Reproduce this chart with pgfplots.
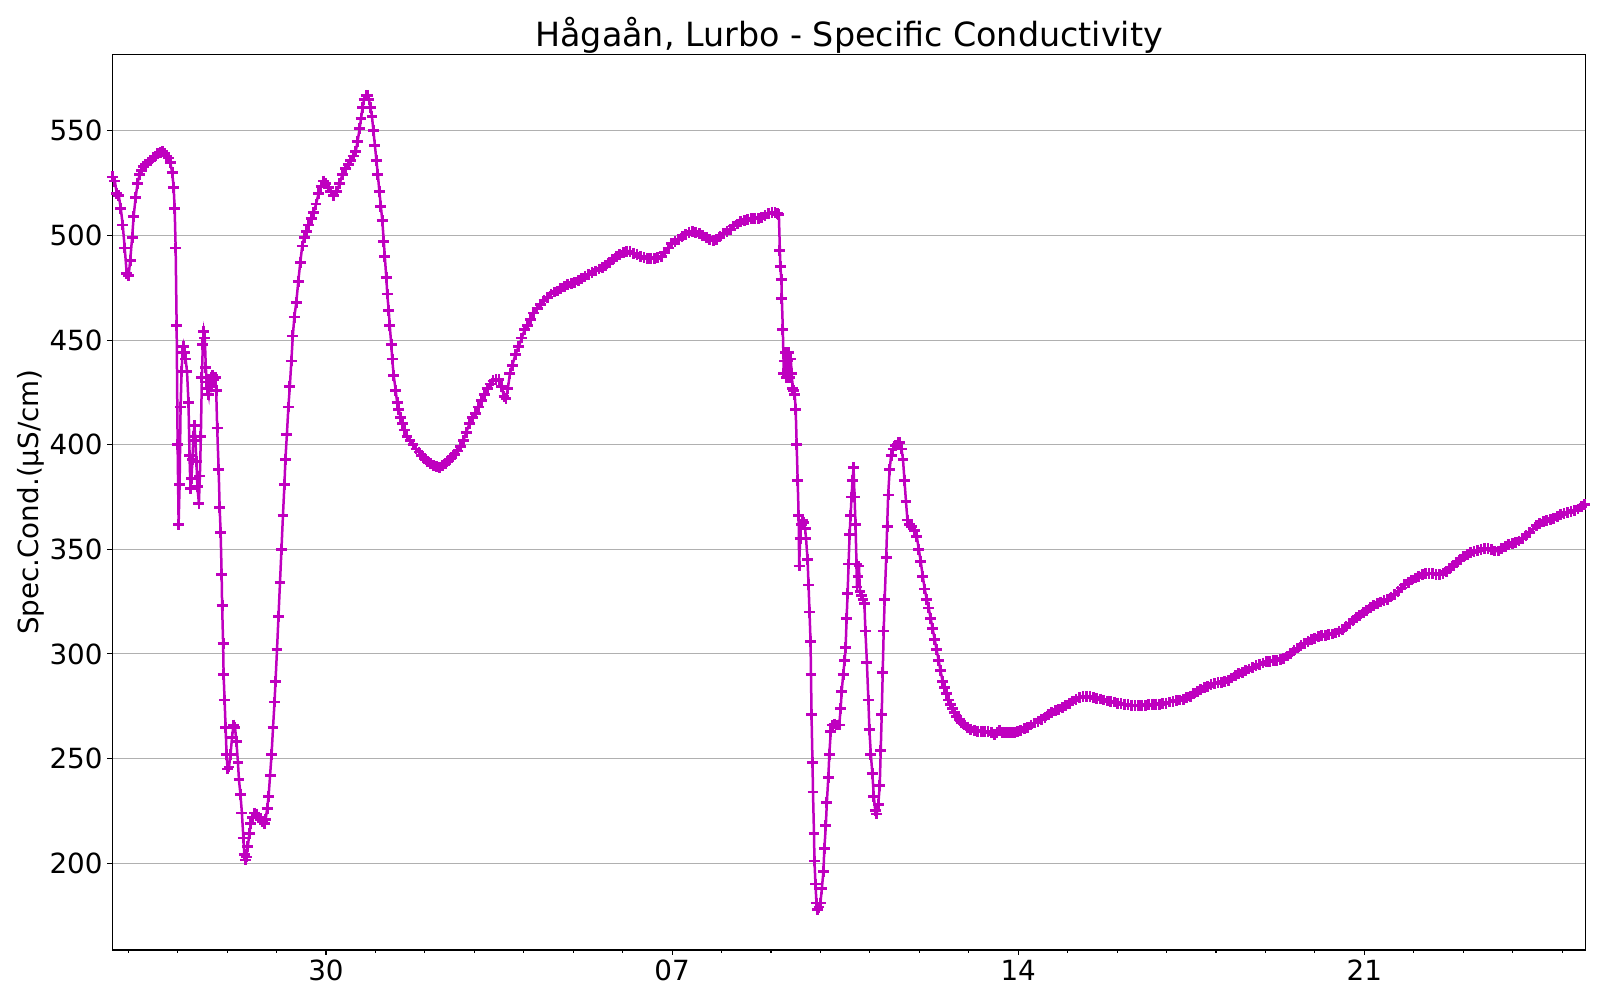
\documentclass[border=0pt]{standalone}
\usepackage{fontspec}
\setmainfont{DejaVu Sans}
\usepackage{pgfplots}
\pgfplotsset{compat=1.18}
\definecolor{magentam}{rgb}{0.75,0,0.75}
\definecolor{gridgray}{HTML}{B0B0B0}
\begin{document}
\begin{tikzpicture}
\useasboundingbox (0,0) rectangle (1152pt,720pt);
\begin{axis}[
  name=ax,
  at={(80.9pt,36.0pt)}, anchor=south west,
  width=1060.9pt, height=644.9pt, scale only axis,
  xmin=-4.32, xmax=25.48, ymin=158.5, ymax=586.6,
  xtick={0,7,14,21}, xticklabels={30,07,14,21},
  minor xtick={-4,-3,-2,-1,1,2,3,4,5,6,8,9,10,11,12,13,15,16,17,18,19,20,22,23,24,25},
  ytick={200,250,300,350,400,450,500,550},
  xtick pos=bottom, ytick pos=left,
  tick align=outside,
  major tick length=3.5pt, minor tick length=2pt,
  every tick/.style={black, line width=0.8pt},
  axis line style={line width=0.8pt},
  ymajorgrids, grid style={gridgray, line width=0.8pt},
  /pgf/number format/assume math mode=true,
  ticklabel style={font=\fontsize{20}{24}\selectfont},
  ylabel={Spec.Cond.(µS/cm)},
  ylabel style={font=\fontsize{20}{24}\selectfont, yshift=-3pt},
  clip=true,
]
\addplot[color=magentam, line width=1.8pt, mark=+, mark size=3.9pt, mark options={line width=2pt}] coordinates {
(-4.31,528)(-4.27,526)(-4.23,520)(-4.19,519)(-4.15,513)(-4.11,505)(-4.07,494)(-4.03,482)(-3.99,481)(-3.96,488)
(-3.92,499)(-3.89,509)(-3.85,518)(-3.81,525)(-3.77,529)(-3.73,531)(-3.69,533)(-3.65,534)(-3.60,535)(-3.55,536)
(-3.50,537)(-3.45,538)(-3.40,539)(-3.35,539.5)(-3.31,540)(-3.27,539)(-3.23,538)(-3.19,537)(-3.15,535)(-3.11,530)
(-3.08,523)(-3.06,513)(-3.04,494)(-3.02,457)(-3.00,400)(-2.98,362)(-2.96,381)(-2.94,418)(-2.92,435)(-2.90,444)
(-2.88,447)(-2.86,444)(-2.84,441)(-2.81,435)(-2.78,420)(-2.76,395)(-2.74,379)(-2.72,384)(-2.70,393)(-2.68,404)
(-2.66,409)(-2.64,402)(-2.62,392)(-2.60,380)(-2.57,372)(-2.55,385)(-2.53,404)(-2.51,432)(-2.49,448)(-2.47,454)
(-2.45,451)(-2.43,437)(-2.41,430)(-2.39,427)(-2.37,424)(-2.35,430)(-2.33,428)(-2.31,432)(-2.29,433)(-2.27,431)
(-2.24,432)(-2.22,426)(-2.20,408)(-2.17,388)(-2.15,370)(-2.13,358)(-2.11,338)(-2.10,323)(-2.08,305)(-2.07,290)
(-2.05,278)(-2.03,265)(-2.01,252)(-1.99,245)(-1.96,246)(-1.93,252)(-1.90,260)(-1.87,266)(-1.84,265)(-1.81,258)
(-1.78,248)(-1.76,240)(-1.73,233)(-1.70,224)(-1.67,212)(-1.65,204)(-1.63,201.5)(-1.61,203)(-1.58,208)(-1.55,214)
(-1.52,219)(-1.49,222)(-1.45,224)(-1.41,223.5)(-1.37,222)(-1.33,221)(-1.29,220)(-1.25,219)(-1.22,221)(-1.19,226)
(-1.16,232)(-1.13,242)(-1.10,252)(-1.07,265)(-1.04,277)(-1.02,287)(-0.99,302)(-0.96,318)(-0.93,334)(-0.90,350)
(-0.87,366)(-0.84,381)(-0.82,393)(-0.79,405)(-0.76,418)(-0.73,428)(-0.70,440)(-0.67,452)(-0.64,461)(-0.60,468)
(-0.56,478)(-0.52,487)(-0.48,495)(-0.44,499)(-0.40,502)(-0.35,505)(-0.30,508)(-0.25,511)(-0.20,515)(-0.15,520)
(-0.10,523.5)(-0.05,526)(0.00,525)(0.05,523)(0.10,521)(0.16,519)(0.22,521)(0.28,525)(0.33,529)(0.40,532)
(0.45,534)(0.50,536)(0.55,538)(0.60,540)(0.64,545)(0.68,551)(0.71,556)(0.74,561)(0.77,565)(0.81,567)
(0.84,567)(0.87,565)(0.90,561)(0.93,557)(0.96,550)(0.99,543)(1.02,536)(1.05,529)(1.08,521)(1.11,514)
(1.14,507)(1.17,497)(1.19,490)(1.22,480)(1.24,472)(1.27,464)(1.29,457)(1.32,448)(1.34,441)(1.37,433)
(1.41,426)(1.44,420)(1.47,417)(1.51,413)(1.55,410)(1.59,407)(1.64,404)(1.70,402)(1.76,400)(1.82,398)
(1.88,396.5)(1.94,395)(2.00,393.5)(2.06,392)(2.12,391)(2.18,390)(2.24,389.5)(2.30,389)(2.36,390)(2.42,391)
(2.48,392.5)(2.54,394)(2.60,395.5)(2.66,397)(2.72,399)(2.78,402)(2.84,406)(2.90,410)(2.96,413)(3.02,415)
(3.08,418)(3.14,421)(3.20,424)(3.26,427)(3.32,429)(3.38,430.5)(3.44,431)(3.50,431)(3.55,428)(3.60,423)
(3.64,422)(3.68,427)(3.72,434)(3.77,438)(3.83,443)(3.90,447)(3.96,451)(4.02,455)(4.08,457)(4.14,460)
(4.20,463)(4.27,465)(4.34,467)(4.41,469)(4.48,470.5)(4.55,472)(4.62,473)(4.68,473.5)(4.75,474.5)(4.82,475.5)
(4.89,476.5)(4.96,477)(5.03,477.5)(5.10,478.5)(5.17,479.5)(5.24,480.5)(5.31,481.5)(5.38,482.5)(5.45,483)(5.52,484)
(5.59,484.5)(5.66,485.5)(5.73,487)(5.80,488.5)(5.87,490)(5.94,491)(6.01,492)(6.08,492.5)(6.15,492.5)(6.22,491.5)
(6.29,491)(6.36,490)(6.43,489.5)(6.50,489)(6.57,489)(6.64,489)(6.71,489.5)(6.78,490)(6.85,492)(6.92,494)
(6.99,496)(7.06,497)(7.13,498)(7.20,499.5)(7.27,500.5)(7.34,501.5)(7.41,502)(7.48,501.5)(7.55,501)(7.62,500)
(7.69,499)(7.76,498)(7.83,497.5)(7.90,498)(7.97,499.5)(8.04,501)(8.11,502)(8.18,503)(8.25,504.5)(8.32,505.5)
(8.39,506.5)(8.46,507)(8.53,507.5)(8.60,508)(8.67,508)(8.74,508)(8.81,508.5)(8.88,509.5)(8.95,510.5)(9.02,511)
(9.08,511)(9.13,510.5)(9.16,510)(9.18,493)(9.19,485)(9.21,479)(9.22,470)(9.24,455)(9.26,434)(9.28,440)
(9.30,444)(9.32,432)(9.34,440)(9.36,444)(9.38,432)(9.40,441)(9.42,434)(9.44,427)(9.46,426)(9.48,424)
(9.50,417)(9.52,400)(9.54,383)(9.56,366)(9.57,342)(9.59,355)(9.61,362)(9.63,364)(9.66,363)(9.69,360)
(9.71,355)(9.74,345)(9.76,333)(9.78,320)(9.80,306)(9.81,290)(9.82,271)(9.84,248)(9.85,234)(9.87,214)
(9.88,201)(9.90,190)(9.92,181)(9.94,178)(9.97,179)(10.00,181)(10.03,188)(10.06,196)(10.08,207)(10.11,218)
(10.13,229)(10.16,241)(10.18,252)(10.21,263)(10.24,266)(10.28,266.5)(10.33,266)(10.38,266)(10.41,274)(10.43,282)
(10.46,290)(10.49,297)(10.51,303)(10.53,317)(10.55,329)(10.57,343)(10.59,357)(10.61,366)(10.63,375)(10.65,383)
(10.67,389)(10.69,375)(10.71,362)(10.73,343)(10.74,332)(10.76,337)(10.78,342)(10.80,330)(10.83,328)(10.86,326)
(10.89,324)(10.91,311)(10.94,296)(10.97,278)(10.99,264)(11.02,252)(11.05,243)(11.08,232)(11.11,225)(11.14,223.5)
(11.17,228)(11.20,237)(11.22,254)(11.24,271)(11.26,291)(11.28,311)(11.30,326)(11.33,346)(11.35,361)(11.37,376)
(11.40,388)(11.43,395)(11.47,398)(11.52,399.5)(11.57,401)(11.61,401)(11.64,398)(11.67,393)(11.70,383)(11.73,373)
(11.76,364)(11.80,362)(11.85,361)(11.90,359)(11.95,356)(11.99,350)(12.03,344)(12.07,337)(12.11,331)(12.15,326)
(12.19,322)(12.23,317)(12.27,312)(12.31,307)(12.35,302)(12.39,297)(12.43,292)(12.47,287)(12.51,284)(12.55,281)
(12.59,278)(12.63,276)(12.67,274)(12.71,272)(12.76,270)(12.81,268.5)(12.86,267)(12.92,266)(12.98,265)(13.04,264)
(13.11,263.5)(13.18,263)(13.25,263)(13.32,263)(13.39,263)(13.46,262.5)(13.52,261.5)(13.57,262.5)(13.62,263.5)(13.68,262.5)
(13.74,262.5)(13.80,262.5)(13.86,262.3)(13.92,262.3)(13.98,263)(14.05,263.5)(14.12,264.3)(14.19,265)(14.26,266)(14.33,267)
(14.40,267.8)(14.47,268.5)(14.54,269.8)(14.61,271)(14.68,272)(14.75,272.8)(14.82,273.5)(14.89,274.5)(14.96,275.5)(15.03,276.5)
(15.10,277.5)(15.17,278.3)(15.24,279)(15.31,279.5)(15.38,279.8)(15.45,279.5)(15.52,279)(15.59,278.8)(15.66,278.5)(15.73,278)
(15.80,277.5)(15.87,277.2)(15.94,277)(16.01,276.5)(16.08,276.2)(16.15,276)(16.22,275.8)(16.29,275.5)(16.36,275.3)(16.43,275.2)
(16.50,275.2)(16.57,275.5)(16.64,275.8)(16.71,276)(16.78,276)(16.85,276)(16.92,276.2)(16.99,276.5)(17.06,277)(17.13,277.3)
(17.20,277.7)(17.27,278)(17.34,278.4)(17.41,279)(17.48,279.8)(17.55,281)(17.62,282)(17.69,283)(17.76,283.8)(17.83,284.5)
(17.90,285.2)(17.97,285.8)(18.04,286.2)(18.11,286.5)(18.18,287)(18.25,287.5)(18.32,288.5)(18.39,289.5)(18.46,290.5)(18.53,291.3)
(18.60,292)(18.67,292.8)(18.74,293.5)(18.81,294.3)(18.88,295)(18.95,295.7)(19.02,296.2)(19.09,296.5)(19.16,296.8)(19.23,297)
(19.30,297.3)(19.37,298)(19.44,299)(19.51,300.3)(19.58,301.5)(19.65,302.8)(19.72,304)(19.79,305)(19.86,306)(19.93,306.8)
(20.00,307.5)(20.07,308.2)(20.14,308.7)(20.21,309)(20.28,309.3)(20.35,309.5)(20.42,310)(20.49,310.8)(20.56,311.7)(20.63,313)
(20.70,314.5)(20.77,316)(20.84,317.3)(20.91,318.5)(20.98,319.7)(21.05,320.8)(21.12,322)(21.19,323)(21.26,324)(21.33,324.8)
(21.40,325.5)(21.47,326.2)(21.54,327.2)(21.61,328.5)(21.68,330)(21.75,331.5)(21.82,333)(21.89,334.3)(21.96,335.3)(22.03,336.3)
(22.10,337.2)(22.17,337.8)(22.24,338.3)(22.31,338.5)(22.38,338.3)(22.45,338)(22.52,338)(22.59,338.5)(22.66,339.5)(22.73,340.8)
(22.80,342.3)(22.87,343.8)(22.94,345.2)(23.01,346.5)(23.08,347.5)(23.15,348.3)(23.22,349)(23.29,349.6)(23.36,350.1)(23.43,350.3)
(23.50,350.3)(23.57,349.8)(23.64,349.2)(23.71,349.2)(23.78,350.3)(23.85,351.3)(23.92,352.2)(23.99,352.8)(24.06,353.3)(24.13,354)
(24.20,355)(24.27,356.5)(24.34,358)(24.41,359.7)(24.48,361.3)(24.55,362.5)(24.62,363.3)(24.69,363.8)(24.76,364.2)(24.83,364.8)
(24.90,365.6)(24.97,366.5)(25.04,367)(25.11,367.5)(25.18,368)(25.25,368.5)(25.32,369.3)(25.39,370.3)(25.46,371.5)
};
\end{axis}
\node[anchor=base, font=\fontsize{24}{28}\selectfont, inner sep=0pt] at ([yshift=5.6pt]ax.north) {Hågaån, Lurbo - Specific Conductivity};
\end{tikzpicture}
\end{document}
